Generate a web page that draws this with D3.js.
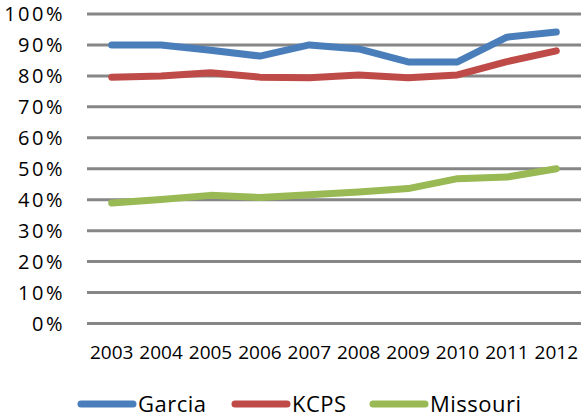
<!DOCTYPE html>
<html lang="en">
<head>
    <meta charset="UTF-8">
    <title>Garcia vs KCPS vs Missouri</title>
    <script src="https://d3js.org/d3.v7.min.js"></script>
    <style>
        body {
            margin: 0;
            padding: 0;
            background-color: #ffffff;
        }

        .y-label {
            font-family: "Open Sans", "Liberation Sans", sans-serif;
            font-size: 20px;
            letter-spacing: 2.5px;
            fill: #000;
        }

        .x-label {
            font-family: "Open Sans", "Liberation Sans", sans-serif;
            font-size: 19px;
            fill: #000;
        }

        .legend-label {
            font-family: "Open Sans", "Liberation Sans", sans-serif;
            font-size: 22px;
            letter-spacing: 0.5px;
            fill: #000;
        }
    </style>
</head>
<body>
    <div id="chart"></div>
    <script>
        // data
        const years = ["2003", "2004", "2005", "2006", "2007", "2008", "2009", "2010", "2011", "2012"];
        const garcia = [0.90, 0.90, 0.883, 0.864, 0.90, 0.887, 0.845, 0.845, 0.925, 0.942];
        const kcps = [0.796, 0.80, 0.81, 0.796, 0.794, 0.803, 0.794, 0.803, 0.846, 0.881];
        const missouri = [0.389, 0.401, 0.414, 0.407, 0.416, 0.425, 0.436, 0.468, 0.473, 0.50];
        const yTicks = [0, 0.1, 0.2, 0.3, 0.4, 0.5, 0.6, 0.7, 0.8, 0.9, 1.0];

        const seriesNames = ["Garcia", "KCPS", "Missouri"];
        const seriesColors = ["#4a7ebb", "#be4b48", "#98b954"];
        const seriesValues = [garcia, kcps, missouri];

        const width = 581;
        const height = 417;
        const margin = { top: 14, right: 0, bottom: 94, left: 87 };

        const svg = d3.select("#chart")
            .append("svg")
            .attr("width", width)
            .attr("height", height);

        const x = d3.scaleBand()
            .domain(years)
            .range([margin.left, width - margin.right]);

        const y = d3.scaleLinear()
            .domain([0, 1])
            .range([height - margin.bottom + 0.5, margin.top]);

        // gridlines
        svg.append("g")
            .selectAll("line")
            .data(yTicks)
            .enter()
            .append("line")
            .attr("x1", margin.left)
            .attr("x2", width - margin.right)
            .attr("y1", d => y(d))
            .attr("y2", d => y(d))
            .attr("stroke", "#868686")
            .attr("stroke-width", 3);

        // y tick labels (trailing letter-spacing is compensated in x)
        svg.append("g")
            .selectAll("text")
            .data(yTicks)
            .enter()
            .append("text")
            .attr("class", "y-label")
            .attr("x", 65)
            .attr("y", d => y(d))
            .attr("dy", "0.36em")
            .attr("text-anchor", "end")
            .text(d => d3.format(".0%")(d));

        // x tick labels
        svg.append("g")
            .selectAll("text")
            .data(years)
            .enter()
            .append("text")
            .attr("class", "x-label")
            .attr("x", d => x(d) + x.bandwidth() / 2)
            .attr("y", 359)
            .attr("text-anchor", "middle")
            .text(d => d);

        // lines
        const line = d3.line()
            .x((d, i) => x(years[i]) + x.bandwidth() / 2)
            .y(d => y(d));

        svg.append("g")
            .selectAll("path")
            .data(seriesValues)
            .enter()
            .append("path")
            .attr("d", d => line(d))
            .attr("fill", "none")
            .attr("stroke", (d, i) => seriesColors[i])
            .attr("stroke-width", 7)
            .attr("stroke-linejoin", "round")
            .attr("stroke-linecap", "round");

        // legend
        const legendX = [78, 232, 370];
        const legend = svg.append("g")
            .selectAll("g")
            .data(seriesNames)
            .enter()
            .append("g")
            .attr("transform", (d, i) => `translate(${legendX[i]},404)`);

        legend.append("line")
            .attr("x1", 3)
            .attr("x2", 55)
            .attr("y1", 0)
            .attr("y2", 0)
            .attr("stroke", (d, i) => seriesColors[i])
            .attr("stroke-width", 7)
            .attr("stroke-linecap", "round");

        legend.append("text")
            .attr("class", "legend-label")
            .attr("x", 60)
            .attr("y", 0)
            .attr("dy", "0.36em")
            .text(d => d);
    </script>
</body>
</html>
